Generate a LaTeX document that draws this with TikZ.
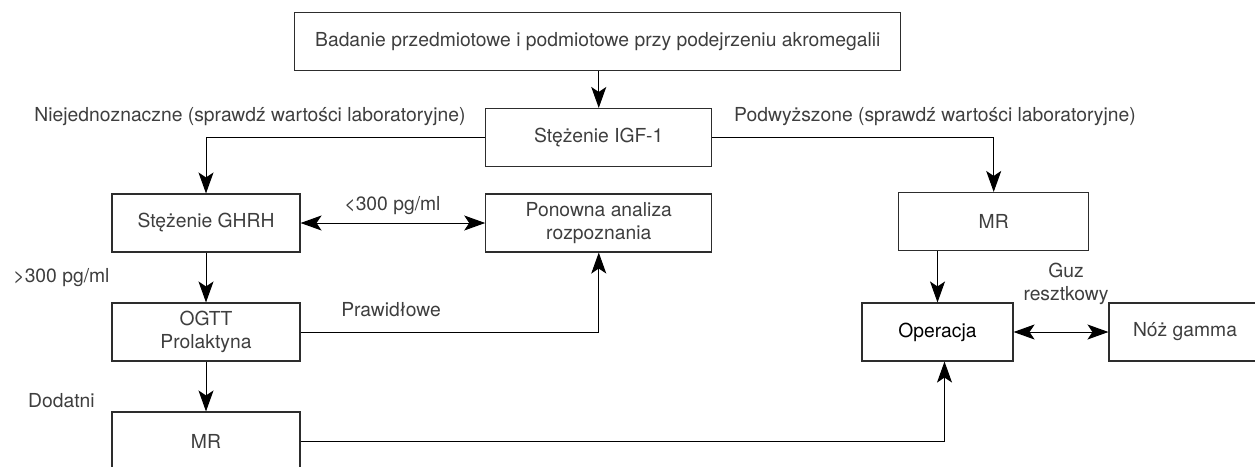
\documentclass[tikz,border=0pt]{standalone}
\usepackage{fontspec}
\setmainfont{TeX Gyre Heros}
\usetikzlibrary{positioning, arrows.meta, calc}
\definecolor{cT}{RGB}{62,62,62}
\definecolor{cL}{RGB}{45,45,45}

\begin{document}
\begin{tikzpicture}[x=1pt, y=-1pt, >={Stealth[length=21pt, width=15pt, inset=5pt]}, font=\fontsize{19.3}{22.7}\selectfont, text=cT]

    \tikzstyle{block} = [draw=cL, rectangle, minimum height=58pt, text centered, align=center, line width=1.1pt, inner sep=0pt]
    \tikzstyle{wire} = [draw=black, line width=1pt]

    \useasboundingbox (0,0) rectangle (1255,466);

    % Examination
    \node[block, minimum width=606pt] (exam) at (597.75,41.5) {Badanie przedmiotowe i podmiotowe przy podejrzeniu akromegalii};

    % IGF-1
    \node[block, minimum width=226pt] (igf) at (598.75,137.5) {Stężenie IGF-1};

    % Left branch
    \node[block, minimum width=188pt] (ghrh) at (206,223) {Stężenie GHRH};
    \node[block, minimum width=226pt] (reeval) at (598.75,223) {Ponowna analiza\\rozpoznania};
    \node[block, minimum width=188pt] (ogtt) at (206,332) {OGTT\\Prolaktyna};
    \node[block, minimum width=188pt] (mrl) at (206,441) {MR};

    % Right branch
    \node[block, minimum width=190pt] (mrr) at (993.7,221.5) {MR};
    \node[block, minimum width=151pt, text=black] (op) at (937.5,332) {Operacja};
    \node[block, minimum width=152pt] (gamma) at (1185,332) {Nóż gamma};

    % Labels
    \node (lblamb) at (250,117) {Niejednoznaczne (sprawdź wartości laboratoryjne)};
    \node (lblhigh) at (935,117) {Podwyższone (sprawdź wartości laboratoryjne)};
    \node (lbllow) at (392.5,206) {<300 pg/ml};
    \node (lblover) at (61.5,278) {>300 pg/ml};
    \node (lblnorm) at (391,310) {Prawidłowe};
    \node (lblpos) at (61.4,401) {Dodatni};
    \node[align=center] (lblres) at (1066,284) {Guz\\resztkowy};

    % Connectors
    \draw[wire, ->] (igf.north |- exam.south) -- (igf.north);
    \draw[wire, ->] (igf.west) -| (ghrh.north);
    \draw[wire, ->] (igf.east) -| (mrr.north);
    \draw[wire, <->] (ghrh.east) -- (reeval.west);
    \draw[wire, ->] (ghrh.south) -- (ogtt.north);
    \draw[wire, ->] (ogtt.east) -| (reeval.south);
    \draw[wire, ->] (ogtt.south) -- (mrl.north);
    \draw[wire, ->] (op.north |- mrr.south) -- (op.north);
    \draw[wire, ->] (mrl.east) -| ([xshift=7]op.south);
    \draw[wire, <->] (op.east) -- (gamma.west);
\end{tikzpicture}
\end{document}
